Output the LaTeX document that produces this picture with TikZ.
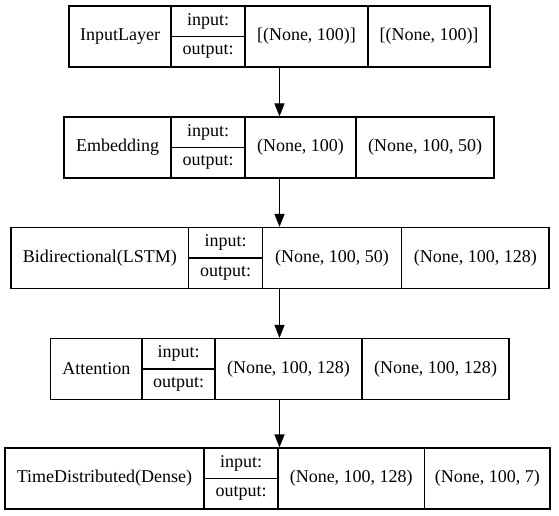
\documentclass[tikz,border=0pt]{standalone}
\usepackage{fontspec}
\setmainfont{Liberation Serif}
\usetikzlibrary{arrows.meta}
\tikzset{
  layerbox/.style={draw, line width=1.3pt, minimum height=61pt, inner sep=0pt},
  cell/.style={font=\fontsize{18}{20}\selectfont, inner sep=0pt},
  flow/.style={line width=1.3pt, -{Triangle[length=13pt,width=10pt]}}
}
\begin{document}
\begin{tikzpicture}[x=1pt,y=-1pt]
  \useasboundingbox (0,0) rectangle (559,516);
  % InputLayer
  \node[layerbox, minimum width=421pt] (b1) at (279.5,36.5) {};
  \draw[line width=1.3pt] (171,6) -- (171,67) (245,6) -- (245,67) (368,6) -- (368,67) (171,36.5) -- (245,36.5);
  \node[cell] (n1)   at (120,36.5)   {InputLayer};
  \node[cell] (i1)   at (208,21.25)  {input:};
  \node[cell] (o1)   at (208,51.75)  {output:};
  \node[cell] (in1)  at (306.5,36.5) {[(None, 100)]};
  \node[cell] (out1) at (429,36.5)   {[(None, 100)]};
  % Embedding
  \node[layerbox, minimum width=430pt] (b2) at (279,147.5) {};
  \draw[line width=1.3pt] (171,117) -- (171,178) (245,117) -- (245,178) (356,117) -- (356,178) (171,147.5) -- (245,147.5);
  \node[cell] (n2)   at (117.5,147.5)  {Embedding};
  \node[cell] (i2)   at (208,132.25)   {input:};
  \node[cell] (o2)   at (208,162.75)   {output:};
  \node[cell] (in2)  at (300.5,147.5)  {(None, 100)};
  \node[cell] (out2) at (425,147.5)    {(None, 100, 50)};
  % Bidirectional(LSTM)
  \node[layerbox, minimum width=538pt] (b3) at (280,258) {};
  \draw[line width=1.3pt] (188.5,227.5) -- (188.5,288.5) (262.5,227.5) -- (262.5,288.5) (401.5,227.5) -- (401.5,288.5) (188.5,258) -- (262.5,258);
  \node[cell] (n3)   at (99.75,258)   {Bidirectional(LSTM)};
  \node[cell] (i3)   at (225.5,242.75) {input:};
  \node[cell] (o3)   at (225.5,273.25) {output:};
  \node[cell] (in3)  at (332,258)     {(None, 100, 50)};
  \node[cell] (out3) at (475.25,258)  {(None, 100, 128)};
  % Attention
  \node[layerbox, minimum width=458.5pt] (b4) at (279.75,369) {};
  \draw[line width=1.3pt] (142,338.5) -- (142,399.5) (215,338.5) -- (215,399.5) (362,338.5) -- (362,399.5) (142,369) -- (215,369);
  \node[cell] (n4)   at (96.25,369)   {Attention};
  \node[cell] (i4)   at (178.5,353.75) {input:};
  \node[cell] (o4)   at (178.5,384.25) {output:};
  \node[cell] (in4)  at (288.5,369)   {(None, 100, 128)};
  \node[cell] (out4) at (435.5,369)   {(None, 100, 128)};
  % TimeDistributed(Dense)
  \node[layerbox, minimum width=545pt] (b5) at (277.5,478.5) {};
  \draw[line width=1.3pt] (204,448) -- (204,509) (278,448) -- (278,509) (424.5,448) -- (424.5,509) (204,478.5) -- (278,478.5);
  \node[cell] (n5)   at (104.5,478.5)  {TimeDistributed(Dense)};
  \node[cell] (i5)   at (241,463.25)   {input:};
  \node[cell] (o5)   at (241,493.75)   {output:};
  \node[cell] (in5)  at (351.25,478.5) {(None, 100, 128)};
  \node[cell] (out5) at (487.25,478.5) {(None, 100, 7)};

  \draw[flow] (b1.south) -- (b1.south |- b2.north);
  \draw[flow] (b1.south |- b2.south) -- (b1.south |- b3.north);
  \draw[flow] (b1.south |- b3.south) -- (b1.south |- b4.north);
  \draw[flow] (b1.south |- b4.south) -- (b1.south |- b5.north);
\end{tikzpicture}
\end{document}
